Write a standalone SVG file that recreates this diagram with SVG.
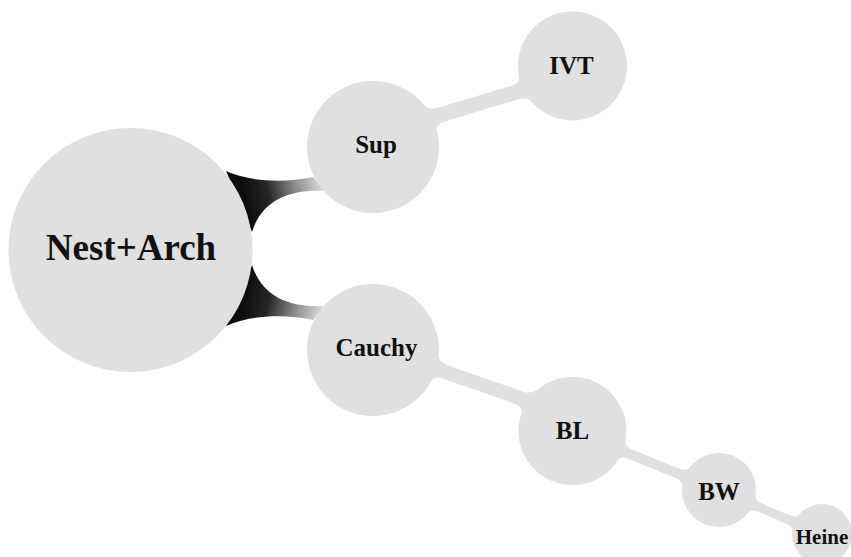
<svg xmlns="http://www.w3.org/2000/svg" width="851" height="557" viewBox="0 0 851 557">
<defs>
<style>
.node{fill:#e0e0e0;}
.band{fill:#e0e0e0;}
.lbl{font-family:"Liberation Serif","Times New Roman",serif;font-weight:bold;fill:#111;text-anchor:middle;}
</style>
<linearGradient id="gUp" gradientUnits="userSpaceOnUse" x1="245" y1="200" x2="322" y2="182">
<stop offset="0" stop-color="#0d0d0d"/>
<stop offset="0.3" stop-color="#262626"/>
<stop offset="0.65" stop-color="#8a8a8a"/>
<stop offset="1" stop-color="#dcdcdc"/>
</linearGradient>
<linearGradient id="gDn" gradientUnits="userSpaceOnUse" x1="245" y1="297" x2="322" y2="315">
<stop offset="0" stop-color="#0d0d0d"/>
<stop offset="0.3" stop-color="#262626"/>
<stop offset="0.65" stop-color="#8a8a8a"/>
<stop offset="1" stop-color="#dcdcdc"/>
</linearGradient>
</defs>
<rect width="851" height="557" fill="#ffffff"/>
<g id="connectors">
<path fill="url(#gUp)" d="M226,171 C250,182 285,183 313,177 L325,191 C290,189 262,200 252,232 Z"/>
<path fill="url(#gDn)" d="M226,326 C250,315 285,314 313,320 L325,306 C290,308 262,297 252,265 Z"/>
<path class="band" d="M436.74,130.04 Q435.90,124.04 444.52,121.46 L517.85,99.49 Q526.48,96.91 531.35,101.70 L519.18,77.17 Q519.77,83.25 511.15,85.83 L437.69,107.84 Q429.07,110.42 424.36,105.58 Z"/>
<path class="band" d="M431.41,380.78 Q434.92,375.66 443.41,378.63 L514.26,403.39 Q522.76,406.36 521.31,412.21 L536.60,390.02 Q530.90,394.38 522.40,391.41 L447.39,365.18 Q438.90,362.21 438.77,355.82 Z"/>
<path class="band" d="M618.01,460.13 Q621.46,456.12 628.88,459.12 L675.72,477.99 Q682.21,480.61 682.24,486.01 L689.72,467.45 Q685.95,471.33 679.46,468.71 L632.62,449.84 Q625.20,446.84 625.49,441.57 Z"/>
<path class="band" d="M748.48,512.38 Q751.94,508.97 758.38,511.72 L787.46,524.14 Q792.06,526.11 792.17,531.05 L799.25,514.49 Q795.60,517.83 790.99,515.86 L761.92,503.44 Q755.48,500.69 755.56,495.82 Z"/>
</g>
<g id="node-nest-arch">
<circle class="node" cx="130.5" cy="250" r="122"/>
<text class="lbl" x="131" y="260" font-size="37">Nest+Arch</text>
</g>
<g id="node-sup">
<circle class="node" cx="373" cy="147" r="66"/>
<text class="lbl" x="376" y="153" font-size="25">Sup</text>
</g>
<g id="node-ivt">
<circle class="node" cx="572.5" cy="66" r="54.5"/>
<text class="lbl" x="571.5" y="74" font-size="25">IVT</text>
</g>
<g id="node-cauchy">
<circle class="node" cx="373" cy="350" r="66"/>
<text class="lbl" x="376.5" y="356" font-size="25">Cauchy</text>
</g>
<g id="node-bl">
<circle class="node" cx="572.5" cy="431" r="54"/>
<text class="lbl" x="572.5" y="439" font-size="25">BL</text>
</g>
<g id="node-bw">
<circle class="node" cx="719" cy="490" r="37"/>
<text class="lbl" x="719" y="500" font-size="25">BW</text>
</g>
<g id="node-heine">
<circle class="node" cx="822" cy="534" r="30"/>
<text class="lbl" x="822" y="544" font-size="21">Heine</text>
</g>
</svg>
